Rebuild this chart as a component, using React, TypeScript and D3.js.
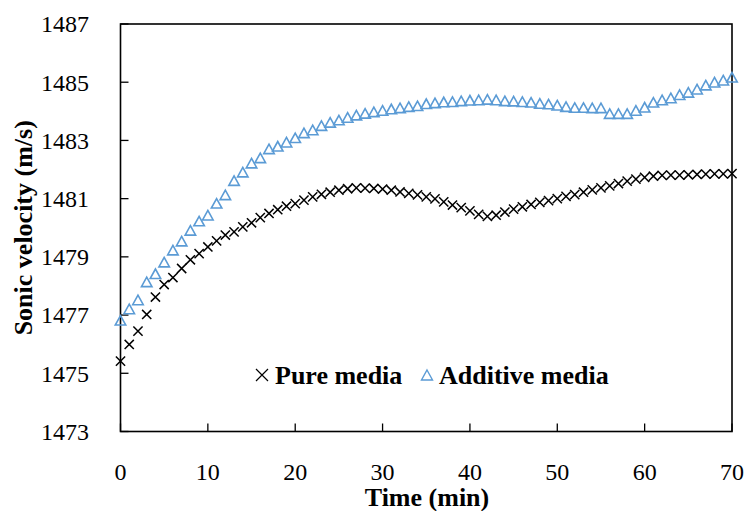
import React, { useEffect, useRef } from "react";
import * as d3 from "d3";

// Sampling time (min), one reading per minute
const timeMin = d3.range(0, 71);

// Sonic velocity (m/s) in pure medium
const pureMedia = [
  1475.42, 1475.99, 1476.45, 1477.02, 1477.62, 1478.05, 1478.29, 1478.6, 1478.9, 1479.11,
  1479.34, 1479.55, 1479.75, 1479.86, 1480.03, 1480.17, 1480.35, 1480.49, 1480.62, 1480.74,
  1480.83, 1480.95, 1481.06, 1481.15, 1481.22, 1481.29, 1481.34, 1481.37, 1481.36, 1481.35,
  1481.33, 1481.29, 1481.23, 1481.18, 1481.13, 1481.06, 1480.99, 1480.89, 1480.78, 1480.69,
  1480.58, 1480.46, 1480.39, 1480.43, 1480.54, 1480.64, 1480.72, 1480.8, 1480.87, 1480.93,
  1481.0, 1481.08, 1481.14, 1481.22, 1481.3, 1481.37, 1481.44, 1481.52, 1481.6, 1481.67,
  1481.73, 1481.77, 1481.8, 1481.81, 1481.81, 1481.82, 1481.83, 1481.84, 1481.85, 1481.85,
  1481.86,
];

// Sonic velocity (m/s) in medium with additive
const additiveMedia = [
  1476.82, 1477.21, 1477.52, 1478.14, 1478.42, 1478.82, 1479.23, 1479.54, 1479.91, 1480.23,
  1480.43, 1480.84, 1481.13, 1481.62, 1481.91, 1482.22, 1482.4, 1482.71, 1482.8, 1482.94,
  1483.09, 1483.26, 1483.36, 1483.51, 1483.62, 1483.7, 1483.79, 1483.87, 1483.93, 1483.98,
  1484.03, 1484.08, 1484.12, 1484.16, 1484.19, 1484.26, 1484.29, 1484.32, 1484.33, 1484.36,
  1484.38, 1484.39, 1484.41, 1484.39, 1484.36, 1484.35, 1484.33, 1484.31, 1484.27, 1484.25,
  1484.21, 1484.16, 1484.13, 1484.13, 1484.12, 1484.12, 1483.92, 1483.92, 1483.92, 1484.03,
  1484.14, 1484.31, 1484.39, 1484.46, 1484.57, 1484.65, 1484.76, 1484.9, 1485.0, 1485.07,
  1485.17,
];

const xTicks = [0, 10, 20, 30, 40, 50, 60, 70];
const yTicks = [1473, 1475, 1477, 1479, 1481, 1483, 1485, 1487];
const seriesNames = ["Pure media", "Additive media"];

const W = 746;
const H = 511;
const BLUE = "#5B9BD5";
const FAMILY = '"Liberation Serif", "Times New Roman", Times, serif';

function crossPath(cx: number, cy: number, r: number) {
  const p = d3.path();
  p.moveTo(cx - r, cy - r);
  p.lineTo(cx + r, cy + r);
  p.moveTo(cx + r, cy - r);
  p.lineTo(cx - r, cy + r);
  return p.toString();
}

function trianglePath(cx: number, cy: number, w: number, h: number) {
  const p = d3.path();
  p.moveTo(cx, cy - h / 2);
  p.lineTo(cx + w / 2, cy + h / 2);
  p.lineTo(cx - w / 2, cy + h / 2);
  p.closePath();
  return p.toString();
}

export default function App() {
  const ref = useRef<SVGSVGElement | null>(null);

  useEffect(() => {
    const svg = d3.select(ref.current);
    svg.selectAll("*").remove();

    const x = d3.scaleLinear().domain([0, 70]).range([120.5, 732]);
    const y = d3.scaleLinear().domain([1473, 1487]).range([431.5, 24]);
    const [x0, x1] = x.range();
    const [y0, y1] = y.range();

    const label = (sel: d3.Selection<SVGTextElement, any, any, any>) => {
      sel.attr("font-family", FAMILY).attr("fill", "#000");
      sel.each(function () {
        (this as SVGTextElement).style.setProperty("font-family", FAMILY, "important");
      });
      return sel;
    };

    svg.append("rect").attr("width", W).attr("height", H).attr("fill", "#fff");

    // plot frame
    svg
      .append("rect")
      .attr("x", x0)
      .attr("y", y1)
      .attr("width", x1 - x0)
      .attr("height", y0 - y1)
      .attr("fill", "none")
      .attr("stroke", "#000")
      .attr("stroke-width", 1.6);

    // y ticks and labels
    const gy = svg.append("g");
    gy.selectAll("line")
      .data(yTicks)
      .join("line")
      .attr("x1", x0)
      .attr("x2", x0 + 8)
      .attr("y1", (d) => y(d))
      .attr("y2", (d) => y(d))
      .attr("stroke", "#000")
      .attr("stroke-width", 1.3);
    label(
      gy
        .selectAll("text")
        .data(yTicks)
        .join("text")
        .attr("x", 89)
        .attr("y", (d) => y(d))
        .attr("dy", "0.35em")
        .attr("text-anchor", "end")
        .attr("font-size", 24)
        .text((d) => String(d)) as any
    );

    // x ticks and labels
    const gx = svg.append("g");
    gx.selectAll("line")
      .data(xTicks)
      .join("line")
      .attr("x1", (d) => x(d))
      .attr("x2", (d) => x(d))
      .attr("y1", y0)
      .attr("y2", y0 - 8)
      .attr("stroke", "#000")
      .attr("stroke-width", 1.3);
    label(
      gx
        .selectAll("text")
        .data(xTicks)
        .join("text")
        .attr("x", (d) => x(d))
        .attr("y", 480)
        .attr("text-anchor", "middle")
        .attr("font-size", 24)
        .text((d) => String(d)) as any
    );

    // axis titles
    label(
      svg
        .append("text")
        .attr("x", 427)
        .attr("y", 506)
        .attr("text-anchor", "middle")
        .attr("font-size", 26)
        .attr("font-weight", "bold")
        .text("Time (min)") as any
    );
    label(
      svg
        .append("text")
        .attr("transform", `translate(23,${(y0 + y1) / 2}) rotate(-90)`)
        .attr("text-anchor", "middle")
        .attr("dy", "0.35em")
        .attr("font-size", 26)
        .attr("font-weight", "bold")
        .text("Sonic velocity (m/s)") as any
    );

    // pure media markers
    svg
      .append("g")
      .attr("stroke", "#000")
      .attr("stroke-width", 1.5)
      .attr("fill", "none")
      .selectAll("path")
      .data(timeMin)
      .join("path")
      .attr("d", (t, i) => crossPath(x(t), y(pureMedia[i]), 4.6));

    // additive media markers
    svg
      .append("g")
      .attr("stroke", BLUE)
      .attr("stroke-width", 1.6)
      .attr("fill", "none")
      .selectAll("path")
      .data(timeMin)
      .join("path")
      .attr("d", (t, i) => trianglePath(x(t), y(additiveMedia[i]), 10.5, 9.5));

    // legend
    const lg = svg.append("g");
    lg.append("path")
      .attr("d", crossPath(262, 375, 6))
      .attr("stroke", "#000")
      .attr("stroke-width", 1.2)
      .attr("fill", "none");
    label(
      lg
        .append("text")
        .attr("x", 275)
        .attr("y", 384)
        .attr("font-size", 26)
        .attr("font-weight", "bold")
        .text(seriesNames[0]) as any
    );
    lg.append("path")
      .attr("d", trianglePath(427, 375, 11, 10))
      .attr("stroke", BLUE)
      .attr("stroke-width", 1.4)
      .attr("fill", "none");
    label(
      lg
        .append("text")
        .attr("x", 439)
        .attr("y", 384)
        .attr("font-size", 26)
        .attr("font-weight", "bold")
        .text(seriesNames[1]) as any
    );
  }, []);

  return (
    <svg
      ref={ref}
      width={W}
      height={H}
      style={{ position: "absolute", left: 0, top: 0, background: "#fff" }}
    />
  );
}
